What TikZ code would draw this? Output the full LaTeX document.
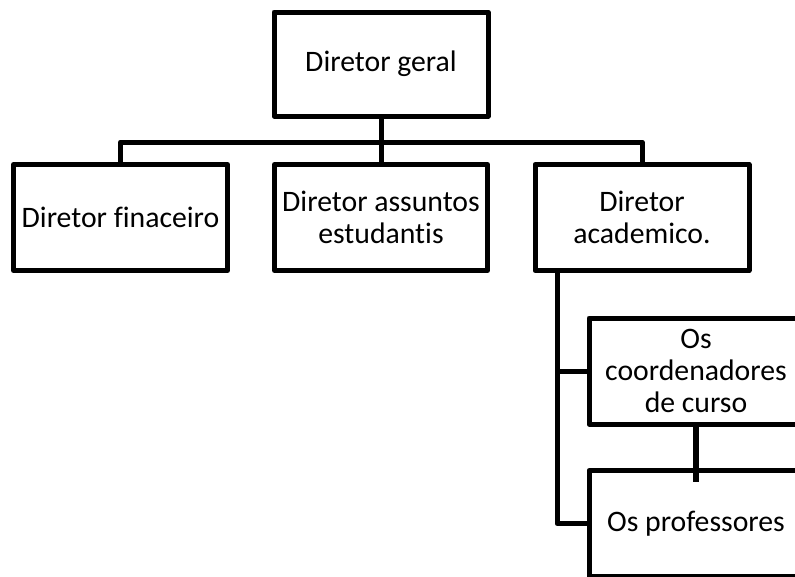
\documentclass[tikz,border=0pt]{standalone}
\usepackage{fontspec}
\setmainfont{Carlito}[Ligatures=NoCommon]
\begin{document}
\begin{tikzpicture}[x=0.75pt,y=-0.75pt,
  box/.style={draw=black,line width=3.75pt,line join=round,fill=white,inner sep=0pt,
    minimum width=160.5pt,minimum height=79.5pt,align=center,
    font=\fontsize{22.3}{23.8}\selectfont},
  conn/.style={draw=black,line width=3.75pt,line join=round},
  thickconn/.style={draw=black,line width=5.2pt}]
\useasboundingbox (0,0) rectangle (795,576);
\clip (0,0) rectangle (795,576);
\fill[white] (0,0) rectangle (795,576);
\node[box,minimum height=78pt] (geral) at (381,64) {Diretor geral};
\node[box] (fin) at (120.5,217.5) {Diretor finaceiro};
\node[box,minimum width=159.75pt] (assun) at (381,217.5) {Diretor assuntos\\estudantis};
\node[box] (acad) at (642,217.5) {Diretor\\academico.};
\node[box] (coord) at (696,371) {Os\\coordenadores\\de curso};
\node[box] (prof) at (696,523.5) {Os professores};
\coordinate (bus) at (381,142);
\coordinate (spine) at (557,270);
\coordinate (tk) at (696,482);
\draw[conn] (geral.south) -- (bus);
\draw[conn] (fin.north) |- (bus) -| (acad.north);
\draw[conn] (assun.north) -- (assun.north |- bus);
\draw[conn] (spine) |- (prof.west);
\draw[conn] (spine |- coord.west) -- (coord.west);
\draw[thickconn] (coord.south) -- (tk);
\end{tikzpicture}
\end{document}
